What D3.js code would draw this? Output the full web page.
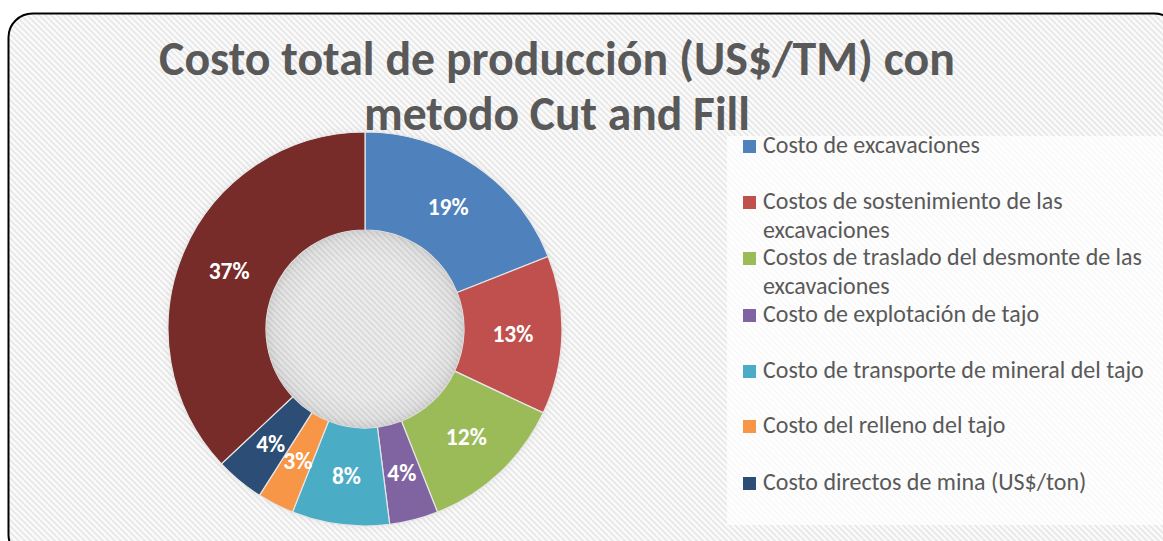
<!DOCTYPE html>
<html>
<head>
<meta charset="utf-8">
<script src="https://cdn.jsdelivr.net/npm/d3@7/dist/d3.min.js"></script>
<style>
  html, body { margin: 0; padding: 0; background: #ffffff; }
  svg { display: block; }
</style>
</head>
<body>
<svg id="chart" width="1163" height="541"></svg>
<script>
// Cost breakdown (share of total production cost, %)
const categories = [
  "Costo de excavaciones",
  "Costos de sostenimiento de las excavaciones",
  "Costos de traslado del desmonte de las excavaciones",
  "Costo de explotación de tajo",
  "Costo de transporte de mineral del tajo",
  "Costo del relleno del tajo",
  "Costo directos de mina (US$/ton)"
];
const values = [19, 13, 12, 4, 8, 3, 4, 37];
const colors = ["#4F81BD", "#C0504D", "#9BBB59", "#8064A2", "#4BACC6", "#F79646", "#2C4D75", "#772C2A"];
// Legend rows (wrapped text lines per entry)
const legendLines = [
  ["Costo de excavaciones"],
  ["Costos de sostenimiento de las", "excavaciones"],
  ["Costos de traslado del desmonte de las", "excavaciones"],
  ["Costo de explotación de tajo"],
  ["Costo de transporte de mineral del tajo"],
  ["Costo del relleno del tajo"],
  ["Costo directos de mina (US$/ton)"]
];
const titleLines = ["Costo total de producción (US$/TM) con", "metodo Cut and Fill"];

const svg = d3.select("#chart");
const fontFam = "Carlito, Lato, 'Open Sans', sans-serif";

const defs = svg.append("defs");
const hatch = defs.append("pattern")
  .attr("id", "hatch").attr("patternUnits", "userSpaceOnUse")
  .attr("width", 6).attr("height", 6);
hatch.append("rect").attr("width", 6).attr("height", 6).attr("fill", "#fbfbfb");
hatch.append("path").attr("d", "M-1,-1 L7,7 M-1,5 L1,7 M5,-1 L7,1")
  .attr("stroke", "#e8e8e8").attr("stroke-width", 1.8);

const hole = defs.append("radialGradient").attr("id", "holeShade");
hole.append("stop").attr("offset", "0.7").attr("stop-color", "#000").attr("stop-opacity", 0);
hole.append("stop").attr("offset", "0.92").attr("stop-color", "#000").attr("stop-opacity", 0.04);
hole.append("stop").attr("offset", "1").attr("stop-color", "#000").attr("stop-opacity", 0.1);

const ring = defs.append("radialGradient").attr("id", "ringShade");
ring.append("stop").attr("offset", "0.92").attr("stop-color", "#000").attr("stop-opacity", 0.06);
ring.append("stop").attr("offset", "1").attr("stop-color", "#000").attr("stop-opacity", 0);

// Chart area: hatched fill with rounded black frame
svg.append("rect")
  .attr("x", 8.5).attr("y", 13.5).attr("width", 1170).attr("height", 545)
  .attr("rx", 24).attr("ry", 24)
  .attr("fill", "url(#hatch)").attr("stroke", "#000").attr("stroke-width", 2);

// Donut
const cx = 365, cy = 329, rOuter = 197, rInner = 99;
const g = svg.append("g").attr("transform", `translate(${cx},${cy})`);

g.append("circle").attr("r", rOuter + 8).attr("fill", "url(#ringShade)");

const pie = d3.pie().sort(null).value(d => d);
const arcs = pie(values);
const arc = d3.arc().innerRadius(rInner).outerRadius(rOuter);
const midR = (rInner + rOuter) / 2;
const labelArc = d3.arc().innerRadius(midR).outerRadius(midR);

g.selectAll("path.slice").data(arcs).join("path")
  .attr("class", "slice")
  .attr("d", arc)
  .attr("fill", (d, i) => colors[i])
  .attr("stroke", "#e6e6e6").attr("stroke-width", 1.2);

g.append("circle").attr("r", rInner).attr("fill", "url(#holeShade)");

const labels = g.selectAll("text.lbl").data(arcs).join("text")
  .attr("class", "lbl")
  .attr("transform", d => `translate(${labelArc.centroid(d)})`)
  .attr("text-anchor", "middle").attr("dy", "0.36em")
  .attr("fill", "#fff").attr("font-family", fontFam)
  .attr("font-weight", "bold").attr("font-size", 20)
  .text(d => d.value + "%");
// size data labels so "19%" spans about 41px
const lblSize = 20 * 41 / labels.node().getComputedTextLength();
labels.attr("font-size", lblSize);

// Title, fitted to its line widths
const titleSpecs = [
  { text: titleLines[0], cx: 557, y: 75, w: 796 },
  { text: titleLines[1], cx: 557, y: 130, w: 386 }
];
titleSpecs.forEach(s => {
  const t = svg.append("text")
    .attr("x", s.cx).attr("y", s.y).attr("text-anchor", "middle")
    .attr("font-family", fontFam).attr("font-weight", "bold")
    .attr("font-size", 40).attr("fill", "#595959").text(s.text);
  const len = t.node().getComputedTextLength();
  t.attr("font-size", 40 * s.w / len);
});

// Legend
const legend = svg.append("g");
legend.append("rect").attr("x", 727).attr("y", 136).attr("width", 436).attr("height", 389)
  .attr("fill", "#fff").attr("fill-opacity", 0.75);
const rowY = [153, 209, 265, 322, 378, 433, 490];
const lineGap = 29;
legendLines.forEach((lines, i) => {
  const row = legend.append("g");
  row.append("rect").attr("x", 743).attr("y", rowY[i] - 13).attr("width", 13).attr("height", 13)
    .attr("fill", colors[i]);
  lines.forEach((ln, j) => {
    row.append("text").attr("class", "leg")
      .attr("x", 763).attr("y", rowY[i] + j * lineGap)
      .attr("font-family", fontFam).attr("font-size", 20).attr("fill", "#595959")
      .text(ln);
  });
});
// scale legend font so the first entry spans its measured width
const first = legend.select("text.leg").node();
const legSize = 20 * 217 / first.getComputedTextLength();
legend.selectAll("text.leg").attr("font-size", legSize);
</script>
</body>
</html>
